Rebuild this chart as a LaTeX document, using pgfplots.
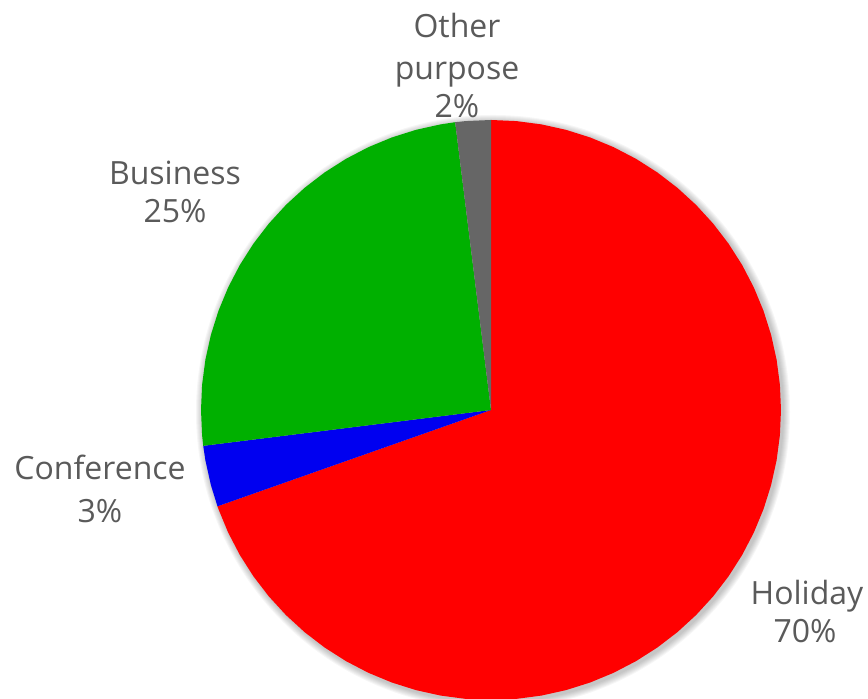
\documentclass[border=0pt]{standalone}
\usepackage{pgfplots}
\pgfplotsset{compat=1.18}
\usepackage{fontspec}
\setmainfont{Open Sans}
\definecolor{cHol}{HTML}{FF0000}
\definecolor{cConf}{HTML}{0000F0}
\definecolor{cBus}{HTML}{00B000}
\definecolor{cOth}{HTML}{666666}
\definecolor{txt}{HTML}{5A5A5A}
\tikzset{lbl/.style={text=txt, anchor=base, inner sep=0pt, font=\fontsize{16}{19}\selectfont}}
\begin{document}
\begin{tikzpicture}
\begin{axis}[
  x=0.5pt, y=0.5pt,
  xmin=-491, xmax=377, ymin=-289, ymax=410,
  hide axis, clip=false,
  data cs=polar,
]
% soft shadow
\pgfplotsinvokeforeach{291,292,293,294,295,296,297}{
  \fill[black, opacity=0.035] (axis cs:2,-2) circle[radius=#1];
}
% Holiday 69.6%
\addplot[fill=cHol, draw=none] coordinates {(0,0) (90,290) (85,290) (80,290) (75,290) (70,290) (65,290) (60,290) (55,290) (50,290) (45,290) (40,290) (35,290) (30,290) (25,290) (20,290) (15,290) (10,290) (5,290) (0,290) (-5,290) (-10,290) (-15,290) (-20,290) (-25,290) (-30,290) (-35,290) (-40,290) (-45,290) (-50,290) (-55,290) (-60,290) (-65,290) (-70,290) (-75,290) (-80,290) (-85,290) (-90,290) (-95,290) (-100,290) (-105,290) (-110,290) (-115,290) (-120,290) (-125,290) (-130,290) (-135,290) (-140,290) (-145,290) (-150,290) (-155,290) (-160,290) (-160.6,290)} --cycle;
% Conference 3.4%
\addplot[fill=cConf, draw=none] coordinates {(0,0) (-160.6,290) (-165,290) (-170,290) (-172.9,290)} --cycle;
% Business 25%
\addplot[fill=cBus, draw=none] coordinates {(0,0) (-172.9,290) (-175,290) (-180,290) (-185,290) (-190,290) (-195,290) (-200,290) (-205,290) (-210,290) (-215,290) (-220,290) (-225,290) (-230,290) (-235,290) (-240,290) (-245,290) (-250,290) (-255,290) (-260,290) (-262.9,290)} --cycle;
% Other 2%
\addplot[fill=cOth, draw=none] coordinates {(0,0) (97.1,290) (95,290) (90,290)} --cycle;
% labels
\node[lbl] at (axis cs:-34,372) {Other};
\node[lbl] at (axis cs:-34,330) {purpose};
\node[lbl] at (axis cs:-34,292) {2\%};
\node[lbl] at (axis cs:-316,225) {Business};
\node[lbl] at (axis cs:-316,187) {25\%};
\node[lbl] at (axis cs:-391,-70) {Conference};
\node[lbl] at (axis cs:-391,-113) {3\%};
\node[lbl] at (axis cs:316,-195) {Holiday};
\node[lbl] at (axis cs:314,-233) {70\%};
\end{axis}
\pgfresetboundingbox
\useasboundingbox (current axis.south west) rectangle (current axis.north east);
\end{tikzpicture}
\end{document}
